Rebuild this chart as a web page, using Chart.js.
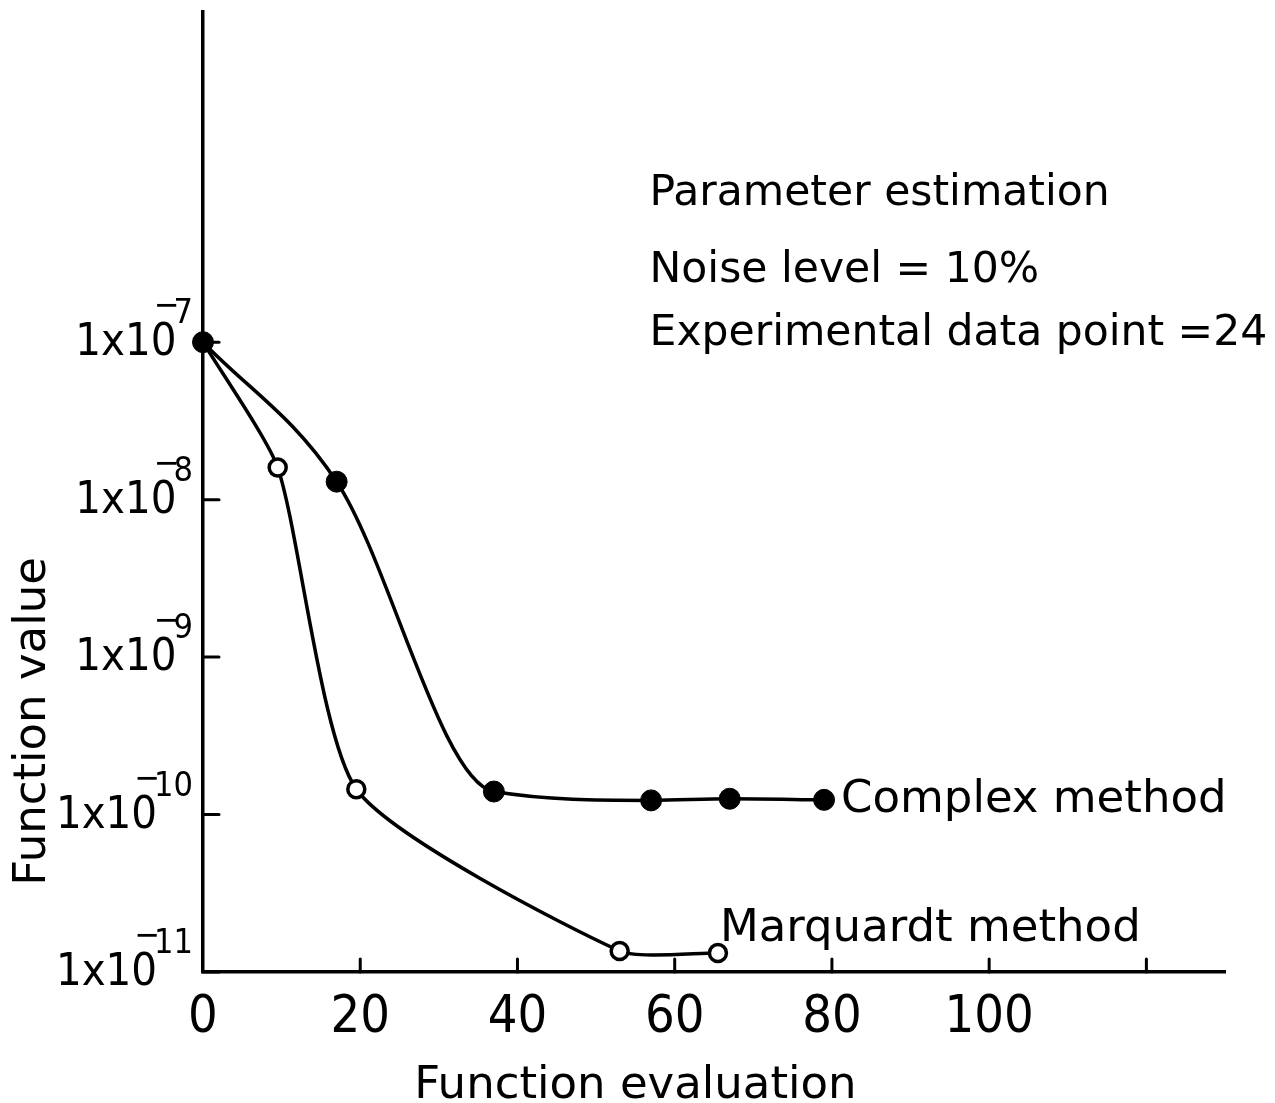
<!DOCTYPE html>
<html>
<head>
<meta charset="utf-8">
<script src="https://cdn.jsdelivr.net/npm/chart.js@4.4.1/dist/chart.umd.min.js"></script>
<style>
  html, body { margin: 0; padding: 0; background: #fff; }
  #wrap { width: 1275px; height: 1103px; }
</style>
</head>
<body>
<div id="wrap"><canvas id="plot"></canvas></div>
<script>
// Complex method (filled dots)
const complexX = [0, 17, 37, 57, 67, 79];
const complexY = [1e-7, 1.3e-8, 1.4e-10, 1.23e-10, 1.26e-10, 1.24e-10];

// Marquardt method (open dots)
const marqX = [0, 9.5, 19.5, 53, 65.5];
const marqY = [1e-7, 1.6e-8, 1.45e-10, 1.36e-11, 1.32e-11];

// axes
const xTicks = [0, 20, 40, 60, 80, 100, 120];
const xTickLabels = ['0', '20', '40', '60', '80', '100', ''];
const yTicks = [1e-11, 1e-10, 1e-9, 1e-8, 1e-7];
const yTickExp = ['11', '10', '9', '8', '7'];

const seriesNames = ['Complex method', 'Marquardt method'];
const notes = ['Parameter estimation', 'Noise level = 10%', 'Experimental data point =24'];
const xTitle = 'Function evaluation';
const yTitle = 'Function value';

const FONT = '"DejaVu Sans", sans-serif';
const NUMFONT = '"DejaVu Sans Condensed", "DejaVu Sans", sans-serif';

function pts(xs, ys) {
  return xs.map((x, i) => ({ x: x, y: ys[i] }));
}

// tick marks, tick labels with exponents, titles and notes
const decor = {
  id: 'decor',
  afterDraw(chart) {
    const ctx = chart.ctx;
    const a = chart.chartArea;
    const xs = chart.scales.x;
    const ys = chart.scales.y;
    ctx.save();
    ctx.fillStyle = '#000';
    ctx.strokeStyle = '#000';
    ctx.lineWidth = 3;
    ctx.lineCap = 'round';

    // inward tick marks
    yTicks.forEach(v => {
      const py = ys.getPixelForValue(v);
      ctx.beginPath();
      ctx.moveTo(a.left, py);
      ctx.lineTo(a.left + 16, py);
      ctx.stroke();
    });
    xTicks.forEach(v => {
      if (v === 0) return;
      const px = xs.getPixelForValue(v);
      ctx.beginPath();
      ctx.moveTo(px, a.bottom);
      ctx.lineTo(px, a.bottom - 13);
      ctx.stroke();
    });

    // y labels: 1x10 with raised negative exponent
    const baseFont = '45px ' + NUMFONT;
    const supFont = '34px ' + NUMFONT;
    ctx.textAlign = 'left';
    ctx.textBaseline = 'alphabetic';
    yTicks.forEach((v, i) => {
      const py = ys.getPixelForValue(v);
      const right = a.left - 10;
      ctx.font = supFont;
      const wd = ctx.measureText(yTickExp[i]).width;
      const wm = ctx.measureText('\u2212').width;
      ctx.fillText(yTickExp[i], right - wd, py - 19);
      ctx.fillText('\u2212', right - wd - wm + 6, py - 26);
      ctx.font = baseFont;
      const wb = ctx.measureText('1x10').width;
      ctx.fillText('1x10', right - wd + 3 - wb, py + 13);
    });

    // axis titles
    ctx.font = '45px ' + FONT;
    ctx.textAlign = 'center';
    ctx.fillText(xTitle, xs.getPixelForValue(55), a.bottom + 126);
    ctx.save();
    ctx.translate(a.left - 170, ys.getPixelForValue(3.9e-10));
    ctx.rotate(-Math.PI / 2);
    ctx.textBaseline = 'middle';
    ctx.fillText(yTitle, 0, 0);
    ctx.restore();

    // notes, top right
    ctx.textAlign = 'left';
    ctx.font = '42.5px ' + FONT;
    const nx = xs.getPixelForValue(56.8);
    [7.4e-7, 2.4e-7, 9.6e-8].forEach((v, i) => {
      ctx.fillText(notes[i], nx, ys.getPixelForValue(v));
    });

    // series names next to their last points
    ctx.font = '45px ' + FONT;
    const c = chart.getDatasetMeta(0).data;
    const cl = c[c.length - 1];
    ctx.textBaseline = 'middle';
    ctx.fillText(seriesNames[0], cl.x + 17, cl.y);
    const m = chart.getDatasetMeta(1).data;
    const ml = m[m.length - 1];
    ctx.textBaseline = 'alphabetic';
    ctx.fillText(seriesNames[1], ml.x + 2, ml.y - 12);
    ctx.restore();
  }
};

new Chart(document.getElementById('plot'), {
  type: 'line',
  data: {
    datasets: [
      {
        label: seriesNames[0],
        data: pts(complexX, complexY),
        borderColor: '#000',
        borderWidth: 3.5,
        backgroundColor: '#000',
        pointBackgroundColor: '#000',
        pointBorderColor: '#000',
        pointRadius: 10.5,
        pointBorderWidth: 1,
        cubicInterpolationMode: 'monotone',
        clip: false
      },
      {
        label: seriesNames[1],
        data: pts(marqX, marqY),
        borderColor: '#000',
        borderWidth: 3.5,
        pointBackgroundColor: '#fff',
        pointBorderColor: '#000',
        pointRadius: 8.5,
        pointBorderWidth: 3.5,
        tension: 0.2,
        clip: false
      }
    ]
  },
  options: {
    responsive: true,
    maintainAspectRatio: false,
    animation: false,
    layout: { padding: { top: 11, right: 50, left: 0, bottom: 0 } },
    plugins: {
      legend: { display: false },
      tooltip: { enabled: false }
    },
    scales: {
      x: {
        type: 'linear',
        min: 0,
        max: 130,
        afterBuildTicks: s => { s.ticks = xTicks.map(v => ({ value: v })); },
        afterFit: s => { s.height = 131; },
        grid: { display: false, drawTicks: false },
        border: { display: true, color: '#000', width: 3.5 },
        ticks: {
          autoSkip: false,
          maxRotation: 0,
          padding: 15,
          color: '#000',
          font: { family: NUMFONT, size: 52 },
          callback: (v, i) => xTickLabels[i]
        }
      },
      y: {
        type: 'logarithmic',
        min: 1e-11,
        max: 1.25e-5,
        afterBuildTicks: s => { s.ticks = yTicks.map(v => ({ value: v })); },
        afterFit: s => { s.width = 203; },
        grid: { display: false, drawTicks: false },
        border: { display: true, color: '#000', width: 3.5 },
        ticks: { display: false }
      }
    }
  },
  plugins: [decor]
});
</script>
</body>
</html>
